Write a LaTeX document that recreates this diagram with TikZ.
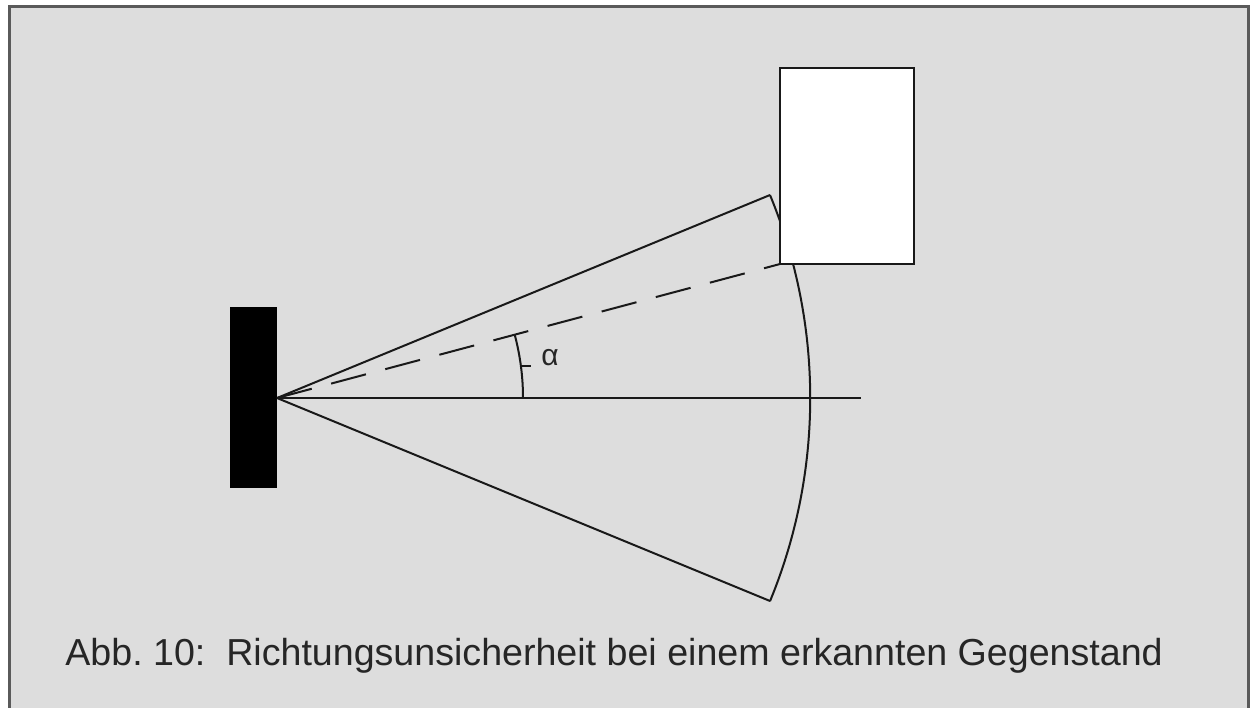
\documentclass[tikz,border=0pt]{standalone}
\usepackage{fontspec}
\setmainfont{Liberation Sans}
\frenchspacing
\definecolor{bgc}{HTML}{DDDDDD}
\definecolor{framec}{HTML}{5A5A5A}
\begin{document}
\begin{tikzpicture}[x=0.5pt,y=-0.5pt,
  ln/.style={draw=black!90, line width=1pt},
  dsh/.style={ln, dash pattern=on 18pt off 10pt},
  bar/.style={fill=black, draw=none, minimum width=23.5pt, minimum height=90.5pt, inner sep=0pt},
  objbox/.style={fill=white, draw=black!90, line width=1.1pt, minimum width=67pt, minimum height=98pt, inner sep=0pt},
  captext/.style={font=\fontsize{18.8pt}{22pt}\selectfont, text=black!85, inner sep=0pt, anchor=base west},
  lbl/.style={font=\fontsize{15pt}{17pt}\selectfont, text=black!85, inner sep=0pt}]
\useasboundingbox (0,0) rectangle (1252,707);
\begin{scope}
  \clip (0,0) rectangle (1252,707);
  \draw[fill=bgc, draw=framec, line width=1.5pt] (9.5,6) rectangle (1248,740);
\end{scope}
\node[bar] (sensor) at (253.5,397.5) {};
\coordinate (apex) at (277,398);
\coordinate (up) at (770,195);
\coordinate (lo) at (770,601);
\coordinate (hend) at (861,398);
\coordinate (a0) at (523,398);
% fan
\draw[ln] (apex) -- (up);
\draw[ln] (apex) -- (lo);
\draw[ln] (up) arc[start angle=-22.4, end angle=22.4, radius=533];
\draw[ln] (apex) -- (hend);
% angle marker
\draw[ln] (a0) arc[start angle=0, end angle=-14.8, radius=246];
\coordinate (t0) at (520,366);
\coordinate (t1) at (531,366);
\draw[ln] (t0) -- (t1);
\node[lbl] (alpha) at (550,358) {α};
% object
\coordinate (objc) at (780,264);
\draw[dsh] (apex) -- (objc);
\node[objbox] (obj) at (847,166) {};
% caption
\node[captext] (caption) at (65,665) {Abb. 10:\ \ Richtungsunsicherheit bei einem erkannten Gegenstand};
\end{tikzpicture}
\end{document}
